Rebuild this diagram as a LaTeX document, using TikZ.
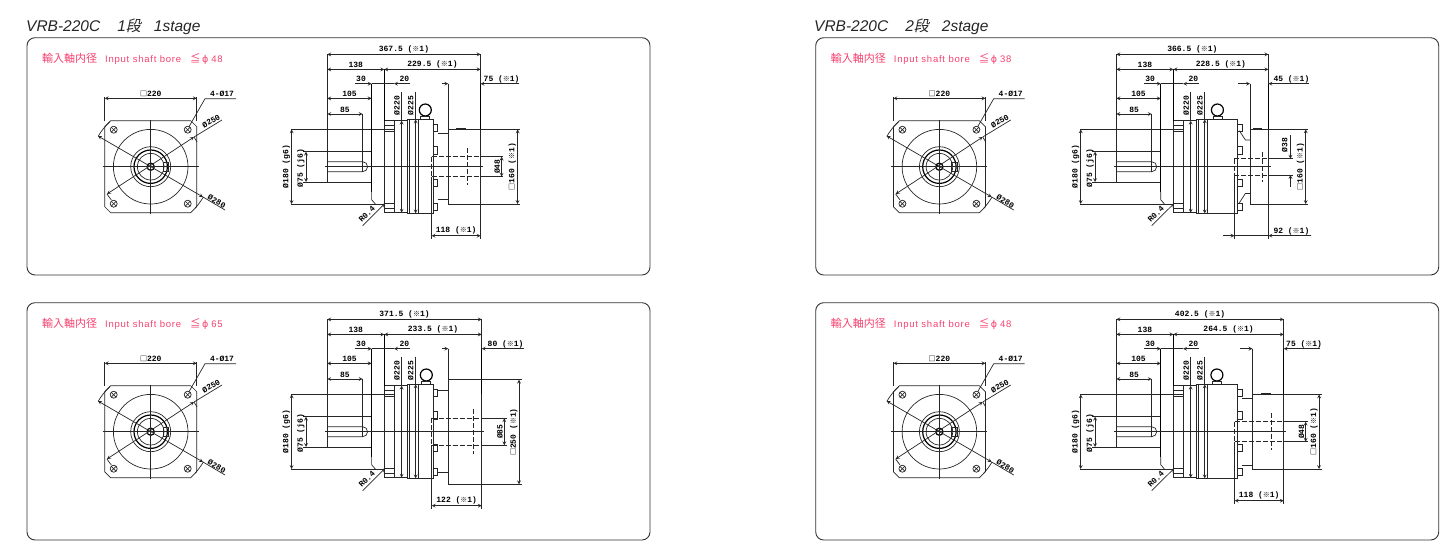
\documentclass[tikz,border=0pt]{standalone}
\usepackage{fontspec}
\usetikzlibrary{positioning, calc}
\setmainfont{Liberation Sans}
\newfontfamily\dimfont{Liberation Mono}
\newfontfamily\cjkfont{Noto Sans CJK JP}
\newfontfamily\cjkslant[FakeSlant=0.2]{Noto Sans CJK JP}
\newfontfamily\borefont[LetterSpace=8]{Liberation Sans}
\newfontfamily\phifont{DejaVu Sans}
\definecolor{borered}{HTML}{F5406E}
\newcommand{\kome}{{\cjkfont\bfseries\fontsize{7}{7}\selectfont ※}}
\newcommand{\sqr}{{\cjkfont\fontsize{7}{7}\selectfont □}}

% panel frame with the red bore note
\newcommand{\panelframe}[2]{
    \draw[frameline] (27,37.7) rectangle (650,275);
    \node[borelbl] (#1-bore) at (42,58.5) {{\cjkfont\fontsize{11}{10}\selectfont 輸入軸内径}\hspace{8pt}{\borefont Input shaft bore}\hspace{9pt}{\cjkfont\fontsize{10.5}{10}\selectfont ≦}\hspace{1.5pt}{\phifont ϕ}\hspace{3pt}{\borefont #2}};
}

% front view, origin on the axis
\newcommand{\frontview}[1]{
\begin{scope}[shift={(150.7,166.7)}]
    \draw[part] (-40,-46) -- (40,-46) -- (46,-40) -- (46,40) -- (40,46) -- (-40,46) -- (-46,40) -- (-46,-40) -- cycle;
    \foreach \r in {37.3, 20, 13.3} {
        \draw[part] (0,0) circle (\r);
    }
    \draw[thickpart] (0,0) circle (16.7);
    \draw[thickpart] (0,0) circle (3.6);
    \draw[part] (12.3,-4.5) rectangle (17.5,5);
    \foreach \x/\y in {-37/-37, 37/-37, -37/37, 37/37} {
        \draw[part] (\x,\y) circle (3.5);
        \draw[part] (\x-2.5,\y+2.5) -- (\x+2.5,\y-2.5);
        \draw[part] (\x-2.5,\y-2.5) -- (\x+2.5,\y+2.5);
    }
    \draw[part] (-48,0) -- (48,0);
    \draw[part] (0,-47) -- (0,47);
    \draw[dimarr] (-52.7,-30.7) -- (52.3,30.3);
    \draw[part] (52.3,30.3) -- (74.3,43.3);
    \draw[dimarr] (-43.7,27.3) -- (43.3,-29.7);
    \draw[part] (43.3,-29.7) -- (71.3,-46.7);
    \draw[part] (210:60.7) arc[start angle=210, end angle=228, radius=60.7];
    \draw[part] (30:60.7) arc[start angle=30, end angle=43, radius=60.7];
    \draw[part] (148:51.5) arc[start angle=148, end angle=140, radius=51.5];
    \draw[part] (-34:52.5) arc[start angle=-34, end angle=-28, radius=52.5];
    % square size and hole callout
    \draw[part] (-46,-46) -- (-46,-70);
    \draw[part] (46,-46) -- (46,-70);
    \draw[dimarr] (-46,-68.4) -- node[dimlbl, above] (#1-square) {\sqr220} (46,-68.4);
    \draw[part] (38.3,-40) -- (54.3,-68) -- (85.3,-68);
    \node[dimlbl] (#1-holes) at (71.3,-73) {4-Ø17};
    \node[dimlbl, rotate=30] (#1-d250) at (60.5,-45.5) {Ø250};
    \node[dimlbl, rotate=-30] (#1-d280) at (66,34.8) {Ø280};
\end{scope}
}

% side view, common part: prefix, body end, eye x, unit end, two top sizes
\newcommand{\sidebase}[6]{
    % shaft
    \draw[part] (0,-112.3) -- (0,15.3);
    \draw[part] (-24,-15) -- (44.3,-15);
    \draw[part] (-24,15.3) -- (44.3,15.3);
    \draw[part] (-36,-37.3) -- (66.7,-37.3);
    \draw[part] (-36,37.3) -- (57,37.3);
    \draw[part] (0,-5) -- (35.3,-5) arc[start angle=-90, end angle=90, radius=5] -- (0,5);
    \draw[part] (35.3,-52.7) -- (35.3,5);
    \draw[thickpart] (44.3,-83) -- (44.3,25);
    \draw[part] (44.3,25) -- (44.3,33) -- (48,37.3);
    % flange
    \draw[part] (57,-46) rectangle (66.7,46);
    \draw[thickpart] (57,-97.3) -- (57,-46);
    \foreach \y in {-41.7, -35.7, 36.6, 41.6} {
        \draw[part] (57,\y) -- (66.7,\y);
    }
    \draw[part] (66.7,-46) -- (80,-46);
    \draw[part] (66.7,46) -- (80,46);
    % main body
    \draw[part] (80,-47.3) rectangle (#2,46.7);
    \foreach \x in {82, 91} {
        \draw[part] (\x,-47.3) -- (\x,46.7);
    }
    % eye bolt
    \draw[thickpart] (#3,-56.7) circle (6);
    \draw[part] (#3-4.5,-50.5) rectangle (#3+4.5,-47.3);
    % sizes
    \draw[part] (#4,-112.3) -- (#4,-83);
    \draw[thickpart] (#4,-83) -- (#4,-37.3);
    \draw[dimarr] (0,-112.3) -- node[dimlbl, above] (#1-total) {#5} (#4,-112.3);
    \draw[dimarr] (0,-97.3) -- node[dimlbl, above] (#1-a) {138} (57,-97.3);
    \draw[dimarr] (57,-97.3) -- node[dimlbl, above] (#1-b) {#6} (#4,-97.3);
    \draw[arr] (27.7,-83) -- (44.3,-83);
    \draw[part] (44.3,-83) -- (66.7,-83);
    \draw[arr] (82.7,-83) -- (66.7,-83);
    \node[dimlbl] (#1-c) at (33.7,-87.7) {30};
    \node[dimlbl] (#1-d) at (77,-87.7) {20};
    \draw[dimarr] (0,-68.3) -- node[dimlbl, above] (#1-e) {105} (44.3,-68.3);
    \draw[dimarr] (0,-52.7) -- node[dimlbl, above] (#1-f) {85} (35.3,-52.7);
    \draw[dimarr] (-35.7,-37.3) -- node[dimlbl, rotate=90, above] (#1-g) {Ø180 (g6)} (-35.7,37.3);
    \draw[dimarr] (-21.3,-15) -- node[dimlbl, rotate=90, above, pos=0.55] (#1-h) {Ø75 (j6)} (-21.3,15.3);
    \draw[part] (74.3,-75) -- (74.3,-46);
    \draw[dimarr] (74.3,-46) -- (74.3,46);
    \draw[part] (88.3,-75) -- (88.3,-47.3);
    \draw[dimarr] (88.3,-47.3) -- (88.3,46.7);
    \node[dimlbl, rotate=90] (#1-i) at (69.8,-61) {Ø220};
    \node[dimlbl, rotate=90] (#1-j) at (83.5,-61) {Ø225};
    \draw[arr] (35.3,59) -- (57.7,36.7);
    \node[dimlbl, rotate=45] (#1-k) at (39.5,47.5) {R0.4};
}

% bolts on the body end: x from, x to
\newcommand{\bolts}[2]{
    \foreach \a/\b in {-42.7/-35, -20/-12.4, 12.8/20, 36.4/43.6} {
        \draw[part] (#1,\a) rectangle (#2,\b);
    }
}

\begin{document}
\begin{tikzpicture}[
        x=1pt, y=-1pt,
        frameline/.style={draw=black!80, line width=0.9pt, rounded corners=8pt},
        part/.style={draw=black!85, line width=0.7pt},
        thickpart/.style={draw=black, line width=1.2pt},
        dashpart/.style={draw=black!85, line width=0.8pt, dash pattern=on 5pt off 2pt},
        arr/.style={->, >=stealth, part},
        dimarr/.style={<->, >=stealth, part},
        dimlbl/.style={font=\dimfont\bfseries\fontsize{8}{8}\selectfont, inner sep=1.1pt, text=black},
        borelbl/.style={font=\fontsize{9.5}{10}\selectfont, anchor=west, inner sep=0pt, text=borered},
        titlelbl/.style={font=\itshape\fontsize{15.5}{16}\selectfont, anchor=base west, inner sep=0pt, text=black!85},
    ]
    \useasboundingbox (0,0) rectangle (1453,552);

    % === titles ===
    \node[titlelbl] (title1) at (26,31) {VRB-220C\hspace{17pt}1{\cjkslant\fontsize{15}{16}\selectfont 段}\hspace{13pt}1stage};
    \node[titlelbl] (title2) at (814,31) {VRB-220C\hspace{17pt}2{\cjkslant\fontsize{15}{16}\selectfont 段}\hspace{13pt}2stage};

    % === 1 stage, bore 48 ===
    \begin{scope}
        \panelframe{A}{48}
        \frontview{A}
        \begin{scope}[shift={(327.3,166.7)}]
            \sidebase{A}{106}{98}{153.3}{367.5 (\kome 1)}{229.5 (\kome 1)}
            \bolts{106}{110.3}
            \draw[part] (110.3,-33.3) -- (121,-33.3);
            \draw[part] (110.3,33) -- (121,33);
            \draw[part] (121,-83) -- (121,-37.3);
            \draw[part] (121,-37.3) rectangle (153.3,37.3);
            \draw[part] (129,-38) -- (139,-38);
            \draw[dashpart] (104.3,-10) -- (153.3,-10);
            \draw[dashpart] (104.3,10) -- (153.3,10);
            \draw[dashpart] (104.3,-10) -- (104.3,10);
            \draw[dashpart] (140,-18.3) -- (140,18.3);
            \draw[part] (-2,0) -- (155.3,0);
            \draw[arr] (114.3,-83) -- (121,-83);
            \draw[arr] (192,-83) -- (153.3,-83);
            \node[dimlbl] (A-l) at (174.3,-87.7) {75 (\kome 1)};
            \draw[part] (104.3,10) -- (104.3,72);
            \draw[part] (153.3,37.3) -- (153.3,72);
            \draw[dimarr] (104.3,69) -- node[dimlbl, above] (A-m) {118 (\kome 1)} (153.3,69);
            \draw[part] (153.3,-10) -- (176,-10);
            \draw[part] (153.3,10) -- (176,10);
            \draw[dimarr] (174.3,-10) -- node[dimlbl, rotate=90, above] (A-n) {Ø48} (174.3,10);
            \draw[part] (153.3,-37.3) -- (193,-37.3);
            \draw[part] (153.3,37.3) -- (193,37.3);
            \draw[dimarr] (190.3,-37.3) -- node[dimlbl, rotate=90, above] (A-o) {\sqr160 (\kome 1)} (190.3,37.3);
        \end{scope}
    \end{scope}

    % === 1 stage, bore 65 ===
    \begin{scope}[yshift=-265pt]
        \panelframe{B}{65}
        \frontview{B}
        \begin{scope}[shift={(327.3,166.7)}]
            \sidebase{B}{106}{99}{154.4}{371.5 (\kome 1)}{233.5 (\kome 1)}
            \bolts{106}{110.4}
            \draw[part] (110.4,-41) -- (121,-41);
            \draw[part] (110.4,41) -- (121,41);
            \draw[part] (121,-83) -- (121,-52);
            \draw[part] (121,-52) rectangle (154.4,52.6);
            \draw[part] (130,-52.8) -- (142,-52.8);
            \draw[thickpart] (154.4,-52) -- (154.4,-37.3);
            \draw[dashpart] (104.4,-13.5) -- (154.4,-13.5);
            \draw[dashpart] (104.4,13.5) -- (154.4,13.5);
            \draw[dashpart] (104.4,-13.5) -- (104.4,13.5);
            \draw[dashpart] (146,-22.5) -- (146,22.5);
            \draw[part] (-2,0) -- (157,0);
            \draw[arr] (114.3,-83) -- (121,-83);
            \draw[arr] (196.7,-83) -- (154.4,-83);
            \node[dimlbl] (B-l) at (178.3,-87.7) {80 (\kome 1)};
            \draw[part] (104.4,13.5) -- (104.4,77);
            \draw[part] (154.4,52.6) -- (154.4,77);
            \draw[dimarr] (104.4,74) -- node[dimlbl, above] (B-m) {122 (\kome 1)} (154.4,74);
            \draw[part] (154.4,-13.5) -- (180,-13.5);
            \draw[part] (154.4,13.5) -- (180,13.5);
            \draw[dimarr] (177,-13.5) -- node[dimlbl, rotate=90, above] (B-n) {Ø85} (177,13.5);
            \draw[part] (154.4,-52) -- (195,-52);
            \draw[part] (154.4,52.6) -- (195,52.6);
            \draw[dimarr] (191.7,-52) -- node[dimlbl, rotate=90, above] (B-o) {\sqr250 (\kome 1)} (191.7,52.6);
        \end{scope}
    \end{scope}

    % === 2 stage, bore 38 ===
    \begin{scope}[xshift=788.7pt]
        \panelframe{C}{38}
        \frontview{C}
        \begin{scope}[shift={(327.7,166.7)}]
            \sidebase{C}{121.3}{101}{152}{366.5 (\kome 1)}{228.5 (\kome 1)}
            \bolts{121.3}{126}
            \draw[part] (123,-36) -- (129,-26.7) -- (133.6,-26.7);
            \draw[part] (123,36) -- (129,26.7) -- (133.6,26.7);
            \draw[part] (133.6,-83) -- (133.6,-37.3);
            \draw[part] (133.6,-37.3) rectangle (152,37.3);
            \draw[part] (137,-38) -- (146,-38);
            \draw[dashpart] (118,-8) -- (152,-8);
            \draw[dashpart] (118,8.3) -- (152,8.3);
            \draw[dashpart] (118,-8) -- (118,8.3);
            \draw[dashpart] (145.6,-15) -- (145.6,15);
            \draw[part] (-2,0) -- (155,0);
            \draw[arr] (121.7,-83) -- (133.6,-83);
            \draw[arr] (192.7,-83) -- (152,-83);
            \node[dimlbl] (C-l) at (175,-87.7) {45 (\kome 1)};
            \draw[part] (118,8.3) -- (118,72);
            \draw[part] (152,37.3) -- (152,72);
            \draw[part] (118,69) -- (152,69);
            \draw[arr] (106.7,69) -- (118,69);
            \draw[arr] (195,69) -- (152,69);
            \node[dimlbl] (C-m) at (175,64.3) {92 (\kome 1)};
            \draw[part] (152,-8) -- (176.6,-8);
            \draw[part] (152,8.3) -- (176.6,8.3);
            \draw[arr] (174,-31.7) -- (174,-8);
            \draw[arr] (174,20) -- (174,8.3);
            \node[dimlbl, rotate=90] (C-n) at (168.3,-21.7) {Ø38};
            \draw[part] (152,-37.3) -- (192,-37.3);
            \draw[part] (152,37.3) -- (192,37.3);
            \draw[dimarr] (189.3,-37.3) -- node[dimlbl, rotate=90, above] (C-o) {\sqr160 (\kome 1)} (189.3,37.3);
        \end{scope}
    \end{scope}

    % === 2 stage, bore 48 ===
    \begin{scope}[xshift=788.7pt, yshift=-265pt]
        \panelframe{D}{48}
        \frontview{D}
        \begin{scope}[shift={(327.7,166.7)}]
            \sidebase{D}{121.3}{100.5}{167.3}{402.5 (\kome 1)}{264.5 (\kome 1)}
            \bolts{121.3}{126}
            \draw[part] (126,-33.3) -- (136,-33.3);
            \draw[part] (126,33.3) -- (136,33.3);
            \draw[part] (136,-83) -- (136,-37.3);
            \draw[part] (136,-37.3) rectangle (167.3,37.3);
            \draw[part] (145,-38) -- (155,-38);
            \draw[dashpart] (118.3,-10) -- (167.3,-10);
            \draw[dashpart] (118.3,10) -- (167.3,10);
            \draw[dashpart] (118.3,-10) -- (118.3,10);
            \draw[dashpart] (155,-18.3) -- (155,18.3);
            \draw[part] (-2,0) -- (170,0);
            \draw[arr] (123.7,-83) -- (136,-83);
            \draw[arr] (204,-83) -- (167.3,-83);
            \node[dimlbl] (D-l) at (187.7,-87.7) {75 (\kome 1)};
            \draw[part] (118.3,10) -- (118.3,72);
            \draw[part] (167.3,37.3) -- (167.3,72);
            \draw[dimarr] (118.3,69) -- node[dimlbl, above] (D-m) {118 (\kome 1)} (167.3,69);
            \draw[part] (167.3,-10) -- (192,-10);
            \draw[part] (167.3,10) -- (192,10);
            \draw[dimarr] (189.3,-10) -- node[dimlbl, rotate=90, above] (D-n) {Ø48} (189.3,10);
            \draw[part] (167.3,-37.3) -- (206,-37.3);
            \draw[part] (167.3,37.3) -- (206,37.3);
            \draw[dimarr] (202.7,-37.3) -- node[dimlbl, rotate=90, above] (D-o) {\sqr160 (\kome 1)} (202.7,37.3);
        \end{scope}
    \end{scope}
\end{tikzpicture}
\end{document}
